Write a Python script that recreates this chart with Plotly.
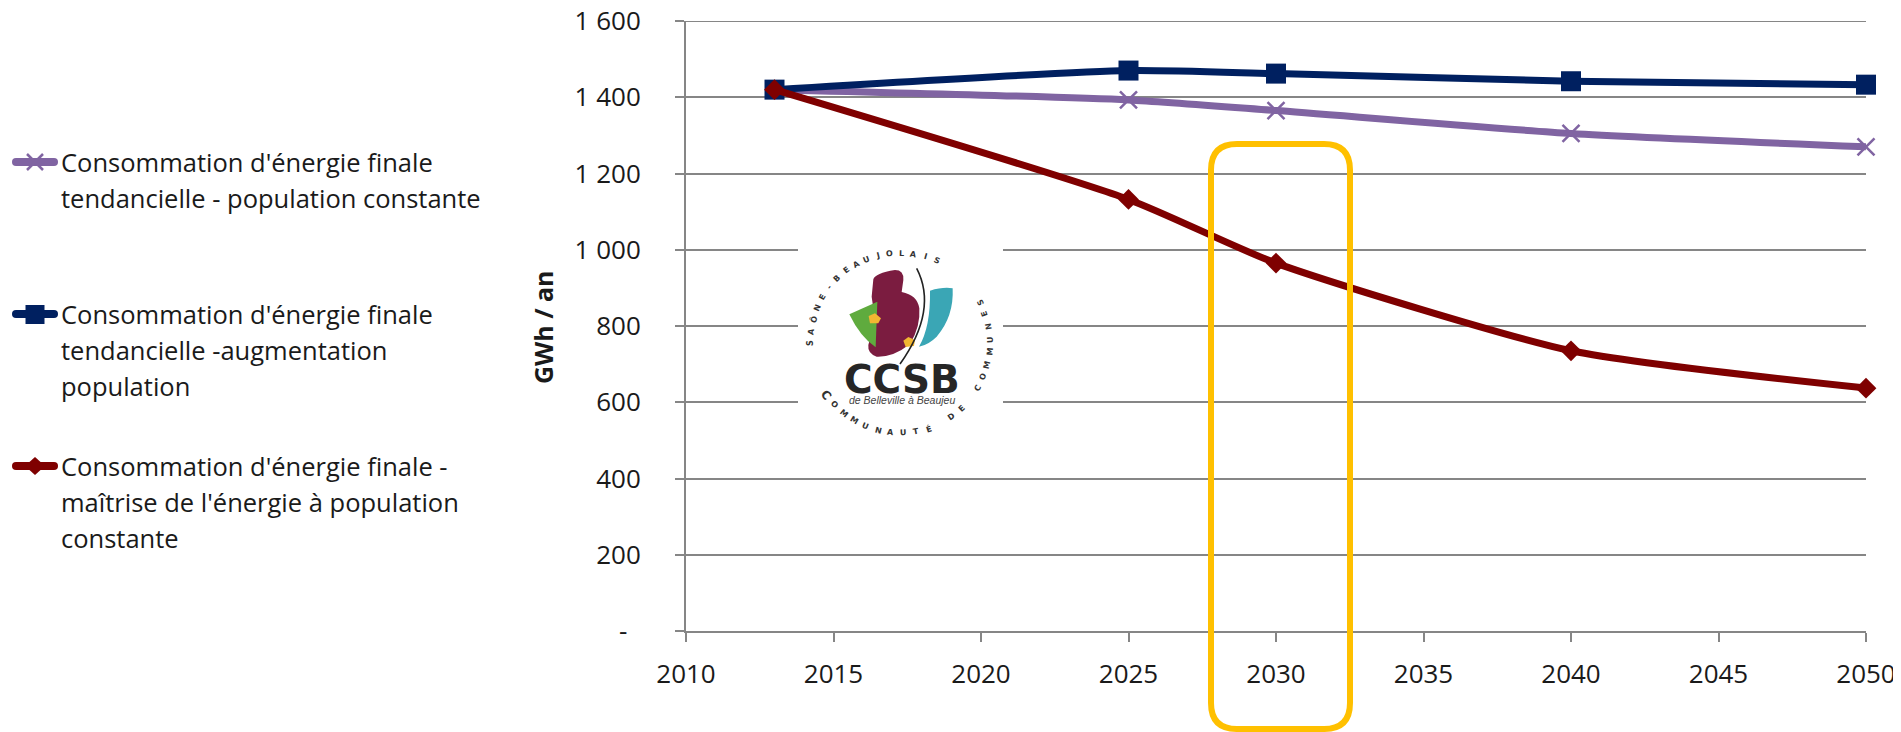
import math
import plotly.graph_objects as go

W, H = 1901, 732
BODY = 8  # the page's default body margin
L, R, T, B = 686, 1866, 21, 631

years = [2013, 2025, 2030, 2040, 2050]
tendanciel_constante = [1420, 1393, 1365, 1305, 1270]
tendanciel_augmentation = [1420, 1470, 1462, 1442, 1433]
maitrise = [1420, 1132, 965, 735, 637]

y_ticks = [0, 200, 400, 600, 800, 1000, 1200, 1400, 1600]
y_labels = ["-\u00a0\u00a0", "200", "400", "600", "800", "1 000", "1 200", "1 400", "1 600"]
x_ticks = [2010, 2015, 2020, 2025, 2030, 2035, 2040, 2045, 2050]

legend_entries = [
    (["Consommation d'énergie finale", "tendancielle - population constante"], 163, "#8064A2", "x-thin"),
    (["Consommation d'énergie finale", "tendancielle -augmentation", "population"], 315, "#002060", "square"),
    (["Consommation d'énergie finale -", "maîtrise de l'énergie à population", "constante"], 467, "#7F0000", "diamond"),
]
FONT = "Open Sans"
TXT = "#1a1a1a"
GREY = "#868686"


def px(x):
    return (x - L) / (R - L)


def py(y):
    return (B - y) / (B - T)


def path(cmds):
    out = []
    for c in cmds:
        out.append(c[0] + " ".join(f"{px(c[i]):.5f},{py(c[i + 1]):.5f}" for i in range(1, len(c), 2)))
    return " ".join(out)


def z(x, y):  # logo design coordinates to page pixels
    return 760 + x / 3, 220 + y / 3


def zpath(cmds, close=True):
    conv = []
    for c in cmds:
        n = [c[0]]
        for i in range(1, len(c), 2):
            n.extend(z(c[i], c[i + 1]))
        conv.append(n)
    return path(conv) + (" Z" if close else "")


fig = go.Figure()
series = [
    ("Consommation d'énergie finale tendancielle - population constante", tendanciel_constante, "#8064A2",
     dict(symbol="x-thin", size=17, color="#8064A2", line=dict(width=2.5, color="#8064A2"))),
    ("Consommation d'énergie finale tendancielle -augmentation population", tendanciel_augmentation, "#002060",
     dict(symbol="square", size=20, color="#002060")),
    ("Consommation d'énergie finale - maîtrise de l'énergie à population constante", maitrise, "#7F0000",
     dict(symbol="diamond", size=16, color="#7F0000")),
]
for name, vals, col, marker in series:
    fig.add_trace(go.Scatter(x=years, y=vals, name=name, mode="lines+markers",
                             line=dict(color=col, width=7, shape="spline", smoothing=0.6),
                             marker=marker, showlegend=False, cliponaxis=False))

shapes = []
ann = []

# Top gridline, which the axis leaves out at the edge of its range
shapes.append(dict(type="line", xref="x domain", yref="y", x0=0, x1=1, y0=y_ticks[-1], y1=y_ticks[-1],
                   line=dict(color=GREY, width=2), layer="below"))

# Legend, drawn by hand to keep the reference's line spacing
for lines, y0, col, sym in legend_entries:
    a, b, h = 12, 58, 4
    shapes.append(dict(type="path", xref="paper", yref="paper", fillcolor=col, line_width=0, layer="above",
                       path=path([["M", a + h, y0 - 1 - h], ["L", b - h, y0 - 1 - h], ["Q", b, y0 - 1 - h, b, y0 - 1],
                                  ["Q", b, y0 - 1 + h, b - h, y0 - 1 + h], ["L", a + h, y0 - 1 + h],
                                  ["Q", a, y0 - 1 + h, a, y0 - 1], ["Q", a, y0 - 1 - h, a + h, y0 - 1 - h]]) + " Z"))
    for i, t in enumerate(lines):
        ann.append(dict(text=t, x=px(59), y=py(y0 - 1 + i * 36), xref="paper", yref="paper", xanchor="left",
                        yanchor="middle", showarrow=False, font=dict(family=FONT, size=25.5, color=TXT)))
    mx = 35
    if sym == "square":
        shapes.append(dict(type="rect", xref="paper", yref="paper", x0=px(mx - 9.5), x1=px(mx + 9.5),
                           y0=py(y0 - 10), y1=py(y0 + 9), fillcolor=col, line_width=0, layer="above"))
    elif sym == "diamond":
        shapes.append(dict(type="path", xref="paper", yref="paper", fillcolor=col, line_width=0, layer="above",
                           path=path([["M", mx - 10, y0 - 1], ["L", mx, y0 - 10], ["L", mx + 10, y0 - 1], ["L", mx, y0 + 8]]) + " Z"))
    else:
        for s in (1, -1):
            shapes.append(dict(type="line", xref="paper", yref="paper", x0=px(mx - 8), x1=px(mx + 8),
                               y0=py(y0 - 1 - 8 * s), y1=py(y0 - 1 + 8 * s), line=dict(color=col, width=2.5), layer="above"))

# Logo: white patch, then shapes
shapes.append(dict(type="rect", xref="paper", yref="paper", x0=px(798), x1=px(1003), y0=py(240), y1=py(432),
                   fillcolor="white", line_width=0, layer="above"))
logo = [
    ("#7B1C40", [["M", 340, 178], ["Q", 345, 160, 405, 150], ["Q", 432, 150, 430, 180], ["L", 425, 216],
                 ["Q", 472, 225, 478, 265], ["Q", 482, 320, 450, 372], ["Q", 400, 412, 350, 410],
                 ["Q", 322, 400, 325, 375], ["L", 345, 300], ["L", 335, 230]]),
    ("#5FAB3E", [["M", 268, 283], ["L", 352, 245], ["L", 347, 382], ["Q", 300, 350, 268, 283]]),
    ("#3AA6B5", [["M", 510, 212], ["Q", 550, 200, 578, 205], ["Q", 582, 290, 530, 350], ["Q", 505, 375, 477, 380],
                 ["Q", 512, 320, 510, 212]]),
    ("#F2B632", [["M", 326, 288], ["L", 345, 280], ["L", 363, 295], ["L", 355, 310], ["L", 330, 310]]),
    ("#F2B632", [["M", 430, 362], ["L", 445, 351], ["L", 465, 360], ["L", 462, 378], ["L", 437, 381]]),
]
for col, cmds in logo:
    shapes.append(dict(type="path", xref="paper", yref="paper", path=zpath(cmds), fillcolor=col, line_width=0, layer="above"))
shapes.append(dict(type="path", xref="paper", yref="paper", layer="above", line=dict(color="#222222", width=1.6),
                   path=zpath([["M", 470, 145], ["Q", 535, 270, 420, 432]], close=False)))
fx, fy = z(425, 478)
ann.append(dict(text="<b>CCSB</b>", x=px(fx), y=py(fy), xref="paper", yref="paper", showarrow=False,
                xanchor="center", yanchor="middle", font=dict(family="DejaVu Sans", size=39, color="#262626")))
fx, fy = z(425, 540)
ann.append(dict(text="<i>de Belleville à Beaujeu</i>", x=px(fx), y=py(fy), xref="paper", yref="paper", showarrow=False,
                xanchor="center", yanchor="middle", font=dict(family="Liberation Sans", size=10.5, color="#444444")))

CX, CY, RAD = 900, 343, 90
top_text = "SAÔNE-BEAUJOLAIS"
for i, ch in enumerate(top_text):
    th = -90 + i * 114 / (len(top_text) - 1)
    a = math.radians(th)
    ann.append(dict(text=f"<b>{ch}</b>", x=px(CX + RAD * math.sin(a)), y=py(CY - RAD * math.cos(a)), xref="paper",
                    yref="paper", showarrow=False, textangle=th, xanchor="center", yanchor="middle",
                    font=dict(family="DejaVu Sans", size=8, color="#333333")))
bottom_text = "COMMUNAUTÉ DE COMMUNES"
for i, ch in enumerate(bottom_text):
    if ch == " ":
        continue
    th = 235 - i * 172 / (len(bottom_text) - 1)
    a = math.radians(th)
    ann.append(dict(text=f"<b>{ch}</b>", x=px(CX + RAD * math.sin(a)), y=py(CY - RAD * math.cos(a)), xref="paper",
                    yref="paper", showarrow=False, textangle=th - 180, xanchor="center", yanchor="middle",
                    font=dict(family="DejaVu Sans", size=12 if i == 0 else 8, color="#333333")))

# Axis title
ann.append(dict(text="<b>GWh / an</b>", x=px(543), y=py(327), xref="paper", yref="paper", showarrow=False,
                textangle=-90, xanchor="center", yanchor="middle", font=dict(family=FONT, size=25, color=TXT)))

# Highlight around 2030
x0, x1, y0, y1, r = 1211, 1350, 144, 729, 26
shapes.append(dict(type="path", xref="paper", yref="paper", layer="above", line=dict(color="#FFC000", width=6),
                   path=path([["M", x0 + r, y0], ["L", x1 - r, y0], ["Q", x1, y0, x1, y0 + r], ["L", x1, y1 - r],
                              ["Q", x1, y1, x1 - r, y1], ["L", x0 + r, y1], ["Q", x0, y1, x0, y1 - r],
                              ["L", x0, y0 + r], ["Q", x0, y0, x0 + r, y0]]) + " Z"))

fig.update_layout(
    width=W - BODY, height=H - BODY, autosize=False, paper_bgcolor="white", plot_bgcolor="white",
    margin=dict(l=L - BODY, r=W - R, t=T - BODY, b=H - B),
    font=dict(family=FONT, color=TXT, size=24),
    shapes=shapes, annotations=ann, showlegend=False,
    xaxis=dict(range=[2010, 2050], tickmode="array", tickvals=x_ticks, ticktext=[str(v) for v in x_ticks],
               automargin=False, showgrid=False, zeroline=False, showline=True, linecolor=GREY, linewidth=2,
               ticks="outside", ticklen=9, tickwidth=2, tickcolor=GREY, ticklabelstandoff=10,
               ticklabeloverflow="allow", tickfont=dict(family=FONT, size=26, color=TXT)),
    yaxis=dict(range=[0, 1600], tickmode="array", tickvals=y_ticks, ticktext=y_labels, showgrid=True, gridcolor=GREY,
               automargin=False, gridwidth=2, zeroline=False, showline=True, linecolor=GREY, linewidth=2,
               ticks="outside", ticklen=9, tickwidth=2, tickcolor=GREY, ticklabelstandoff=29,
               ticklabeloverflow="allow", tickfont=dict(family=FONT, size=26, color=TXT)),
)
fig.write_html("out.html")
